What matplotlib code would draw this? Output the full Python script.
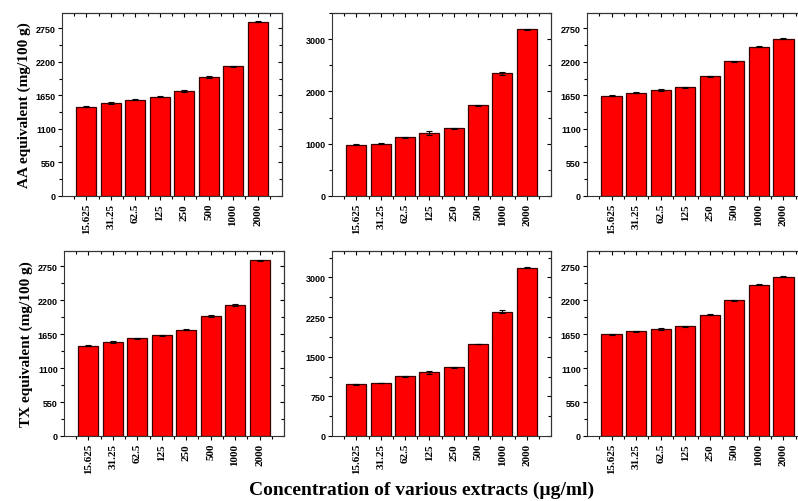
import numpy as np
import matplotlib
matplotlib.use("Agg")
import matplotlib.pyplot as plt
from matplotlib.ticker import MultipleLocator, FixedLocator

conc = ["15.625", "31.25", "62.5", "125", "250", "500", "1000", "2000"]

# AA equivalent (top row)
aa_1 = [1465, 1525, 1579, 1628, 1721, 1949, 2124, 2853]
aa_1_err = [6, 15, 10, 10, 12, 22, 15, 8]
aa_2 = [977, 1002, 1123, 1199, 1300, 1738, 2347, 3190]
aa_2_err = [8, 6, 12, 35, 10, 8, 28, 10]
aa_3 = [1645, 1694, 1732, 1781, 1966, 2205, 2445, 2581]
aa_3_err = [8, 10, 14, 8, 8, 12, 8, 6]

# TX equivalent (bottom row)
tx_1 = [1467, 1522, 1582, 1630, 1723, 1946, 2125, 2848]
tx_1_err = [6, 15, 10, 10, 12, 22, 15, 8]
tx_2 = [981, 1000, 1127, 1203, 1304, 1741, 2348, 3184]
tx_2_err = [8, 6, 12, 35, 10, 8, 28, 10]
tx_3 = [1652, 1696, 1739, 1783, 1967, 2201, 2451, 2582]
tx_3_err = [8, 10, 14, 8, 8, 12, 8, 6]

W, H = 798, 502
fig = plt.figure(figsize=(W / 100, H / 100), dpi=100)

def px_axes(l, t, r, b):
    return fig.add_axes([l / W, 1 - b / H, (r - l) / W, (b - t) / H])

serif = "Liberation Serif"
sans = "Liberation Sans"

def panel(ax, vals, errs, ymax, ystep, ylabel=None):
    x = np.arange(1, len(vals) + 1)
    ax.bar(x, vals, width=0.82, color="#ff0000", edgecolor="#3a0000", linewidth=0.9,
           yerr=errs, error_kw=dict(ecolor="black", elinewidth=0.8, capsize=2, capthick=0.8))
    ax.set_xlim(0, 9)
    ax.set_ylim(0, ymax)
    ax.xaxis.set_major_locator(FixedLocator(x))
    ax.xaxis.set_minor_locator(FixedLocator(np.arange(0.5, 9, 1.0)))
    ax.set_xticklabels(conc, rotation=90, fontfamily=serif, fontweight="bold", fontsize=8)
    ax.yaxis.set_major_locator(MultipleLocator(ystep))
    ax.yaxis.set_minor_locator(MultipleLocator(ystep / 2))
    for lab in ax.get_yticklabels():
        lab.set_fontfamily(sans)
        lab.set_fontweight("bold")
        lab.set_fontsize(6.5)
    ax.tick_params(axis="x", which="both", direction="out", bottom=True, top=False, pad=2)
    ax.tick_params(axis="y", which="both", direction="out", left=True, right=False, pad=1.5)
    ax.tick_params(which="major", length=3, width=0.8)
    ax.tick_params(which="minor", length=2, width=0.8)
    # inward ticks on top and right
    sec = ax.secondary_xaxis("top")
    sec.xaxis.set_major_locator(FixedLocator(x))
    sec.xaxis.set_minor_locator(FixedLocator(np.arange(0.5, 9, 1.0)))
    sec.tick_params(which="both", direction="in", labeltop=False, width=0.8)
    sec.tick_params(which="major", length=3)
    sec.tick_params(which="minor", length=2)
    secy = ax.secondary_yaxis("right")
    secy.yaxis.set_major_locator(MultipleLocator(ystep))
    secy.yaxis.set_minor_locator(MultipleLocator(ystep / 2))
    secy.tick_params(which="both", direction="in", labelright=False, width=0.8)
    secy.tick_params(which="major", length=3)
    secy.tick_params(which="minor", length=2)
    for s in ax.spines.values():
        s.set_linewidth(0.8)
        s.set_color("#333333")
    if ylabel:
        ax.set_ylabel(ylabel, fontfamily=serif, fontweight="bold", fontsize=11, labelpad=3)

top_t, top_b = 14, 197
bot_t, bot_b = 252, 437
lefts = [62, 332, 587]
rights = [282, 551, 808]

ax1 = px_axes(lefts[0], top_t, rights[0], top_b)
panel(ax1, aa_1, aa_1_err, 3000, 550, "AA equivalent (mg/100 g)")
ax2 = px_axes(lefts[1], top_t, rights[1], top_b)
panel(ax2, aa_2, aa_2_err, 3500, 1000)
ax3 = px_axes(lefts[2], top_t, rights[2], top_b)
panel(ax3, aa_3, aa_3_err, 3000, 550)

ax4 = px_axes(64, bot_t, 284, bot_b)
panel(ax4, tx_1, tx_1_err, 3000, 550, "TX equivalent (mg/100 g)")
ax5 = px_axes(lefts[1], bot_t, rights[1], bot_b)
panel(ax5, tx_2, tx_2_err, 3500, 750)
ax6 = px_axes(lefts[2], bot_t, rights[2], bot_b)
panel(ax6, tx_3, tx_3_err, 3000, 550)

fig.text(422 / W, 1 - 490 / H, "Concentration of various extracts (µg/ml)",
         ha="center", va="center", fontfamily=serif, fontweight="bold", fontsize=14)

fig.savefig("out.png", dpi=100)
